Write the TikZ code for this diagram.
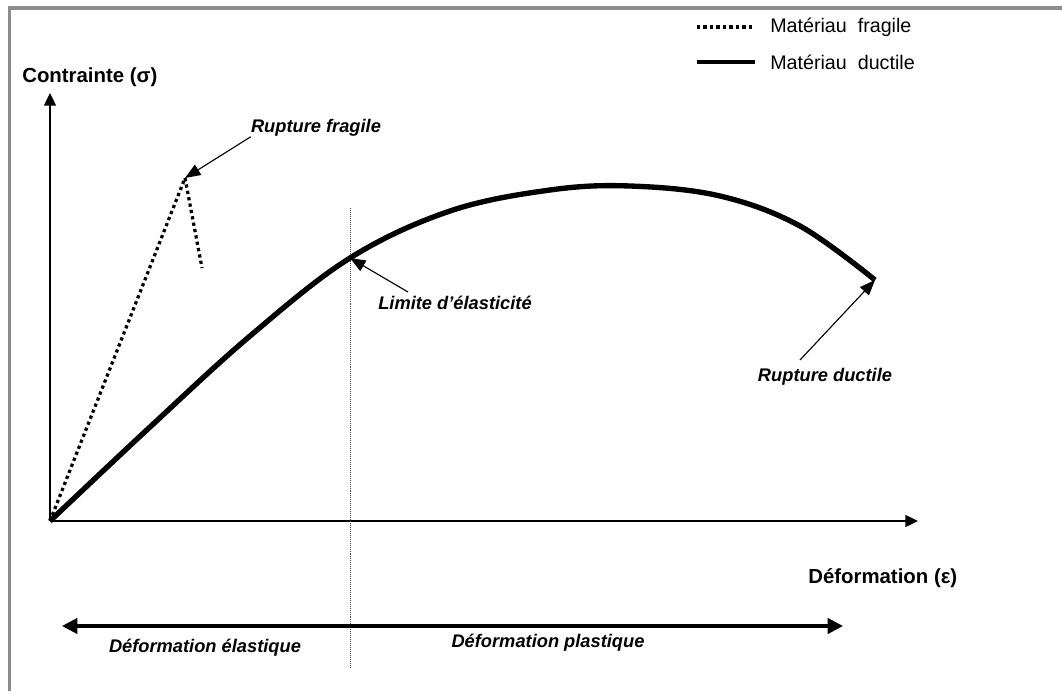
\documentclass[tikz,border=0pt]{standalone}
\usepackage{fontspec}
\setmainfont{Liberation Sans}
\usetikzlibrary{arrows.meta}

\begin{document}
\begin{tikzpicture}[x=0.025cm, y=-0.025cm,
  axe/.style={line width=1pt, -{Triangle[length=9pt,width=8.5pt]}},
  fleche/.style={line width=0.8pt, -{Triangle[length=11pt,width=8.5pt]}},
  ductile/.style={line width=3.8pt},
  fragile/.style={line width=2.3pt, dash pattern=on 2.3pt off 2.3pt},
  titre/.style={font=\bfseries\fontsize{14.5}{16}\selectfont, inner sep=0, anchor=west},
  note/.style={font=\bfseries\itshape\fontsize{13}{15}\selectfont, inner sep=0},
  legende/.style={font=\fontsize{14}{16}\selectfont, inner sep=0, anchor=west}]
\useasboundingbox (0,0) rectangle (1062,691);

% cadre
\draw[black!45, line width=2.8pt] (9.5,691) -- (9.5,8) -- (1062,8);

% points
\coordinate (O) at (50,521);
\coordinate (ytop) at (50,93);
\coordinate (xend) at (918,521);
\coordinate (pf) at (185,178);
\coordinate (ff) at (202,268);
\coordinate (le) at (350,258);
\coordinate (rd) at (875,280);
\coordinate (vtop) at (350,208);
\coordinate (vbot) at (350,668);
\coordinate (dl) at (62,626);
\coordinate (dr) at (843,626);
\coordinate (lt) at (408,292);
\coordinate (rt) at (800,360);

% legende
\coordinate (l1a) at (697,27);
\coordinate (l1b) at (755,27);
\coordinate (l2a) at (697,62);
\coordinate (l2b) at (755,62);
\draw[fragile] (l1a) -- (l1b);
\draw[line width=2.8pt] (l2a) -- (l2b);
\path (770,27) node[legende] (lfrag) {Matériau\ \ fragile}
      (770,62) node[legende] (lduct) {Matériau\ \ ductile};

% axes
\draw[axe] (O) -- (ytop);
\draw[axe] (O) -- (xend);
\path (22,77) node[titre] (sigma) {Contrainte (σ)}
      (808,578) node[titre] (eps) {Déformation (ε)};

% limite elastique
\draw[black!70, line width=0.6pt, dash pattern=on 0.7pt off 0.7pt] (vtop) -- (vbot);

% courbes
\draw[fragile] (O) -- (pf) -- (ff);
\draw[ductile] plot[smooth, tension=0.6] coordinates {(O) (150,427) (250,336) (le)
  (450,211) (550,190) (630,186) (720,196) (800,226) (rd)};

% annotations
\path (316,128) node[note] (rfrag) {Rupture fragile}
      (455,303) node[note] (lim) {Limite d’élasticité}
      (825,377) node[note] (rduct) {Rupture ductile}
      (205,648) node[note] (delas) {Déformation élastique}
      (548,643) node[note] (dplas) {Déformation plastique};

\draw[fleche] (rfrag.south west) -- (pf);
\draw[fleche] (lt) -- (le);
\draw[fleche] (rt) -- (rd);

% domaines
\draw[line width=2.2pt, {Triangle[length=11pt,width=11pt]}-{Triangle[length=11pt,width=11pt]}] (dl) -- (dr);

\end{tikzpicture}
\end{document}
